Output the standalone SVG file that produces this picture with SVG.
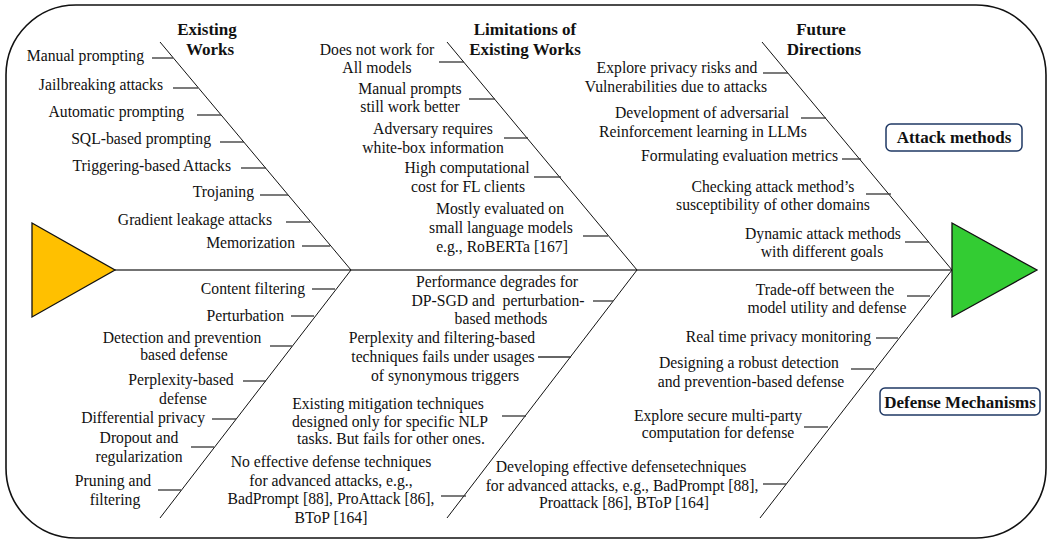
<svg xmlns="http://www.w3.org/2000/svg" width="1049" height="541" viewBox="0 0 1049 541">
<style>
text{font-family:"Liberation Serif","Times New Roman",serif;fill:#111;}
.t{font-size:15.7px;}
.c{text-anchor:middle;}
.e{text-anchor:end;}
.h{font-size:17px;font-weight:bold;text-anchor:middle;}
.pre{white-space:pre;}
.tick{stroke:#333;stroke-width:1.3;fill:none;}
.bone{stroke:#111;stroke-width:1;fill:none;}
.spine{stroke:#444;stroke-width:1.4;fill:none;}
.cat{fill:#fff;stroke:#1F3864;stroke-width:1.5;}
</style>
<rect x="6" y="5" width="1040" height="533" rx="70" ry="70" fill="#fff" stroke="#111" stroke-width="1.6"/>

<g id="connectors">
<line class="spine" x1="115" y1="270" x2="952" y2="270"/>
<polyline class="bone" points="160,42 351,270 160,518"/>
<polyline class="bone" points="447,42 637,270 447,518"/>
<polyline class="bone" points="762,42 952,270 760,518"/>
<line class="tick" x1="152" y1="58" x2="173" y2="58"/>
<line class="tick" x1="173" y1="88" x2="198" y2="88"/>
<line class="tick" x1="197" y1="115" x2="221" y2="115"/>
<line class="tick" x1="220" y1="142" x2="244" y2="142"/>
<line class="tick" x1="241" y1="168" x2="266" y2="168"/>
<line class="tick" x1="260" y1="195" x2="288" y2="195"/>
<line class="tick" x1="286" y1="222" x2="310" y2="222"/>
<line class="tick" x1="302" y1="246" x2="330" y2="246"/>
<line class="tick" x1="439" y1="62" x2="464" y2="62"/>
<line class="tick" x1="469" y1="99" x2="495" y2="99"/>
<line class="tick" x1="504" y1="138" x2="528" y2="138"/>
<line class="tick" x1="534" y1="177" x2="561" y2="177"/>
<line class="tick" x1="583" y1="236" x2="608" y2="236"/>
<line class="tick" x1="763" y1="73" x2="788" y2="73"/>
<line class="tick" x1="801" y1="118" x2="826" y2="118"/>
<line class="tick" x1="842" y1="159" x2="861" y2="159"/>
<line class="tick" x1="866" y1="194" x2="891" y2="194"/>
<line class="tick" x1="905" y1="242" x2="929" y2="242"/>
<line class="tick" x1="312" y1="289" x2="335" y2="289"/>
<line class="tick" x1="291" y1="316" x2="314" y2="316"/>
<line class="tick" x1="270" y1="346" x2="292" y2="346"/>
<line class="tick" x1="243" y1="381" x2="266" y2="381"/>
<line class="tick" x1="212" y1="419" x2="236" y2="419"/>
<line class="tick" x1="191" y1="447" x2="214" y2="447"/>
<line class="tick" x1="158" y1="490" x2="181" y2="490"/>
<line class="tick" x1="593" y1="301" x2="613" y2="301"/>
<line class="tick" x1="538" y1="357" x2="571" y2="357"/>
<line class="tick" x1="502" y1="416" x2="526" y2="416"/>
<line class="tick" x1="441" y1="496" x2="466" y2="496"/>
<line class="tick" x1="907" y1="296" x2="930" y2="296"/>
<line class="tick" x1="876" y1="338" x2="898" y2="338"/>
<line class="tick" x1="851" y1="369" x2="874" y2="369"/>
<line class="tick" x1="804" y1="427" x2="828" y2="427"/>
<line class="tick" x1="763" y1="484" x2="786" y2="484"/>
</g>

<g id="head-left"><polygon points="32,223 115,270 32,317" fill="#FFC000" stroke="#111" stroke-width="1.3"/></g>
<g id="head-right"><polygon points="952,223 1037,270 952,317" fill="#33CC33" stroke="#111" stroke-width="1.3"/></g>

<g id="existing-works">
<text class="h" x="207" y="35">Existing</text>
<text class="h" x="210" y="55">Works</text>
<text class="t e" x="144" y="61">Manual prompting</text>
<text class="t e" x="163" y="90">Jailbreaking attacks</text>
<text class="t e" x="184" y="117">Automatic prompting</text>
<text class="t e" x="211" y="144">SQL-based prompting</text>
<text class="t e" x="231" y="171">Triggering-based Attacks</text>
<text class="t e" x="254" y="197">Trojaning</text>
<text class="t e" x="272" y="225">Gradient leakage attacks</text>
<text class="t e" x="295" y="248">Memorization</text>
</g>

<g id="limitations">
<text class="h" x="525" y="35">Limitations of</text>
<text class="h" x="525" y="55">Existing Works</text>
<text class="t c" x="377" y="55">Does not work for<tspan x="377" y="73">All models</tspan></text>
<text class="t c" x="410" y="94">Manual prompts<tspan x="410" y="112">still work better</tspan></text>
<text class="t c" x="433" y="134">Adversary requires<tspan x="433" y="153">white-box information</tspan></text>
<text class="t c" x="467" y="173">High computational<tspan x="468" y="192">cost for FL clients</tspan></text>
<text class="t c" x="500" y="214">Mostly evaluated on<tspan x="501" y="233">small language models</tspan><tspan x="502" y="252">e.g., RoBERTa [167]</tspan></text>
</g>

<g id="future">
<text class="h" x="821" y="35">Future</text>
<text class="h" x="824" y="55">Directions</text>
<text class="t c" x="677" y="73">Explore privacy risks and<tspan x="676" y="92">Vulnerabilities due to attacks</tspan></text>
<text class="t c" x="702" y="118">Development of adversarial<tspan x="703" y="137">Reinforcement learning in LLMs</tspan></text>
<text class="t e" x="838" y="161">Formulating evaluation metrics</text>
<text class="t c" x="773" y="192">Checking attack method’s<tspan x="773" y="210">susceptibility of other domains</tspan></text>
<text class="t c" x="823" y="239">Dynamic attack methods<tspan x="822" y="257">with different goals</tspan></text>
</g>

<g id="attack-methods">
<rect class="cat" x="886" y="124" width="136" height="27" rx="5"/>
<text class="h" x="954" y="143">Attack methods</text>
</g>

<g id="defense-mechanisms">
<rect class="cat" x="880" y="388" width="160" height="27" rx="5"/>
<text class="h" x="960" y="408">Defense Mechanisms</text>
</g>

<g id="defense-existing">
<text class="t e" x="305" y="294">Content filtering</text>
<text class="t e" x="284" y="321">Perturbation</text>
<text class="t c" x="182" y="343">Detection and prevention<tspan x="184" y="360">based defense</tspan></text>
<text class="t c" x="181" y="385">Perplexity-based<tspan x="183" y="404">defense</tspan></text>
<text class="t e" x="205" y="423">Differential privacy</text>
<text class="t c" x="139" y="443">Dropout and<tspan x="139" y="462">regularization</tspan></text>
<text class="t c" x="113" y="486">Pruning and<tspan x="115" y="505">filtering</tspan></text>
</g>

<g id="defense-limitations">
<text class="t c" x="497" y="287">Performance degrades for<tspan class="pre" x="498" y="306">DP-SGD and  perturbation-</tspan><tspan x="501" y="324">based methods</tspan></text>
<text class="t c" x="442" y="343">Perplexity and filtering-based<tspan x="443" y="362">techniques fails under usages</tspan><tspan x="445" y="381">of synonymous triggers</tspan></text>
<text class="t c" x="388" y="409">Existing mitigation techniques<tspan x="390" y="427">designed only for specific NLP</tspan><tspan x="391" y="444">tasks. But fails for other ones.</tspan></text>
<text class="t c" x="331" y="467">No effective defense techniques<tspan x="331" y="486">for advanced attacks, e.g.,</tspan><tspan x="331" y="504">BadPrompt [88], ProAttack [86],</tspan><tspan x="331" y="523">BToP [164]</tspan></text>
</g>

<g id="defense-future">
<text class="t c" x="825" y="295">Trade-off between the<tspan x="827" y="313">model utility and defense</tspan></text>
<text class="t e" x="871" y="342">Real time privacy monitoring</text>
<text class="t c" x="749" y="368">Designing a robust detection<tspan x="751" y="387">and prevention-based defense</tspan></text>
<text class="t c" x="718" y="421">Explore secure multi-party<tspan x="718" y="438">computation for defense</tspan></text>
<text class="t c" x="621" y="472">Developing effective defensetechniques<tspan x="622" y="491">for advanced attacks, e.g., BadPrompt [88],</tspan><tspan x="624" y="508">Proattack [86], BToP [164]</tspan></text>
</g>
</svg>
